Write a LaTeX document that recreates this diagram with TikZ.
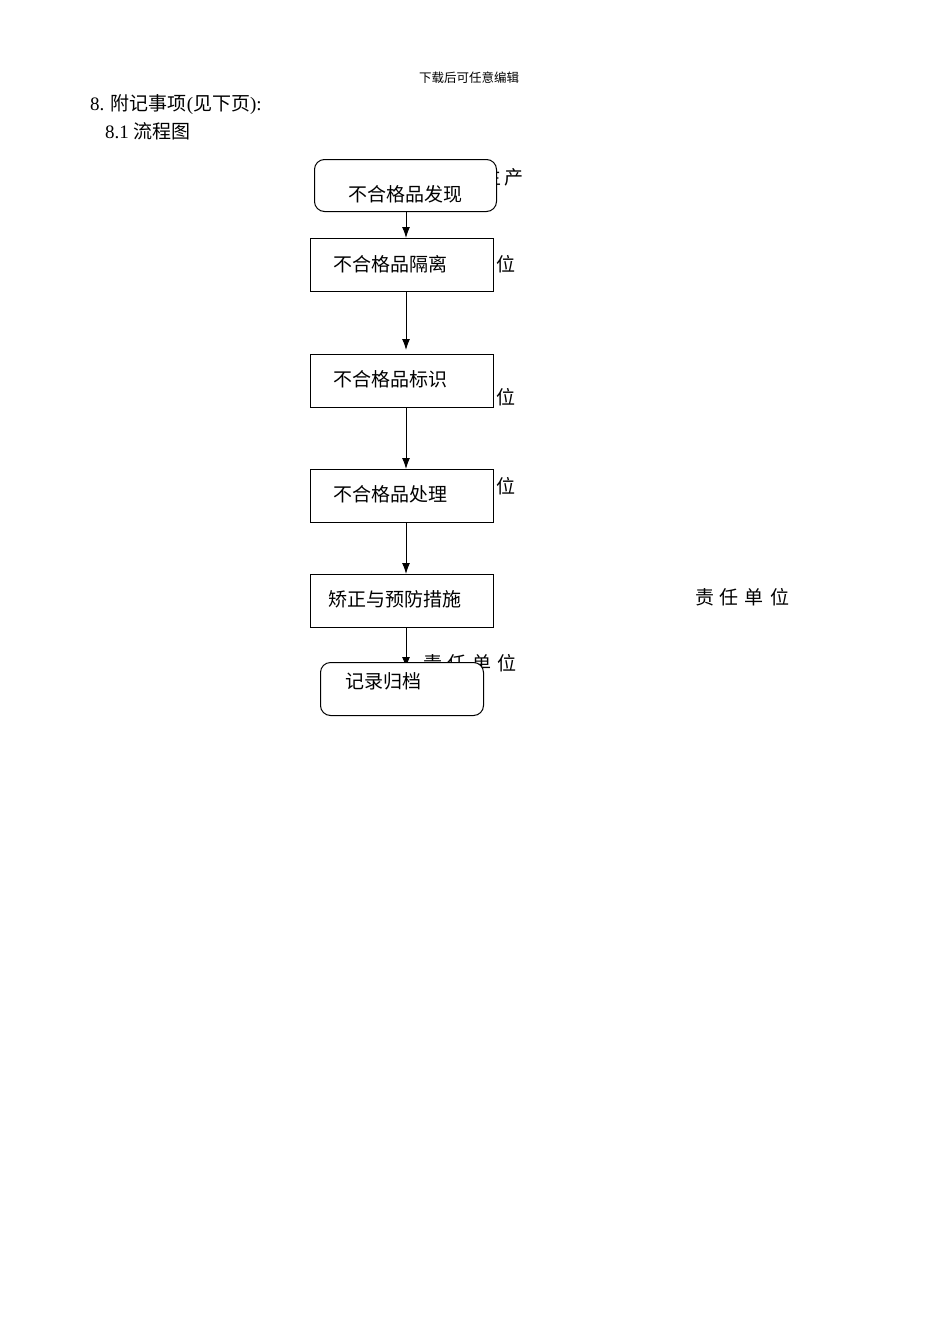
\documentclass[tikz,border=0pt]{standalone}
\usepackage{fontspec}
\usetikzlibrary{arrows.meta}
\setmainfont{Liberation Serif}
\newfontfamily\cjk{Noto Sans CJK SC}
\pgfdeclarelayer{bg}
\pgfsetlayers{bg,main}
\begin{document}
\begin{tikzpicture}[x=1pt,y=-1pt,
  box/.style={draw,line width=1pt,fill=white,inner sep=0pt,minimum width=183pt,minimum height=53pt,anchor=north west},
  rbox/.style={box,rounded corners=10pt},
  txt/.style={inner sep=0pt,anchor=west,font=\fontsize{19}{19}\selectfont\cjk},
  lbl/.style={inner sep=0pt,anchor=center,font=\fontsize{19}{19}\selectfont\cjk},
  arr/.style={draw,line width=1pt,-{Latex[length=11pt,width=8pt]}}]
\useasboundingbox (0,0) rectangle (950,1344);
% header texts
\node[inner sep=0pt,font=\fontsize{12.5}{12.5}\selectfont\cjk] (hdr) at (469,78) {下载后可任意编辑};
\node[inner sep=0pt,anchor=west,font=\fontsize{19}{19}\selectfont] (h8) at (90,105) {8. {\cjk 附记事项}({\cjk 见下页}):};
\node[inner sep=0pt,anchor=west,font=\fontsize{19}{19}\selectfont] (h81) at (105,131) {8.1 {\cjk 流程图}};
% boxes
\node[rbox,minimum width=182pt,minimum height=52pt] (b1) at (314,159) {};
\node[box] (b2) at (310,238) {};
\node[box] (b3) at (310,354) {};
\node[box] (b4) at (310,469) {};
\node[box] (b5) at (310,574) {};
\node[rbox,minimum width=163pt,minimum height=53pt] (b6) at (320,662) {};
% box texts
\node[txt] (t1) at (348,194) {不合格品发现};
\node[txt] (t2) at (333,264) {不合格品隔离};
\node[txt] (t3) at (333,379) {不合格品标识};
\node[txt] (t4) at (333,494) {不合格品处理};
\node[txt] (t5) at (328,599) {矫正与预防措施};
\node[txt] (t6) at (345,681) {记录归档};
\coordinate (ax) at (406,0);
\coordinate (e2) at (406,350);
\coordinate (e5) at (406,668);
\begin{pgfonlayer}{bg}
  % side labels
  \node[lbl] (l1) at (503,177) {生\hspace{4pt}产};
  \node[lbl] (l2) at (506,264) {位};
  \node[lbl] (l3) at (506,397) {位};
  \node[lbl] (l4) at (506,486) {位};
  \node[lbl] (l5) at (742,597) {责\hspace{6pt}任\hspace{6pt}单\hspace{6pt}位};
  \node[lbl] (l6) at (470,663) {责\hspace{6pt}任\hspace{6pt}单\hspace{6pt}位};
  % connectors
  \draw[arr] (b1.south -| ax) -- (b2.north -| ax);
  \draw[arr] (b2.south -| ax) -- (e2);
  \draw[arr] (b3.south -| ax) -- (b4.north -| ax);
  \draw[arr] (b4.south -| ax) -- (b5.north -| ax);
  \draw[arr] (b5.south -| ax) -- (e5);
\end{pgfonlayer}
\end{tikzpicture}
\end{document}
